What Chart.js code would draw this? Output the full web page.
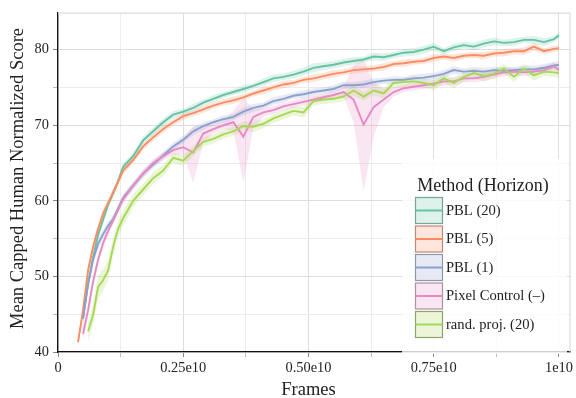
<!DOCTYPE html>
<html>
<head>
<meta charset="utf-8">
<script src="https://cdn.jsdelivr.net/npm/chart.js@4.4.1/dist/chart.umd.min.js"></script>
<style>
  html, body { margin: 0; padding: 0; background: #fff; }
  canvas { display: block; }
</style>
</head>
<body>
<canvas id="scoreChart" width="576" height="398"></canvas>
<script>
// ============================================
// DATA — frames in units of 1e10
// ============================================
const framesE10 = [
  0.04, 0.05, 0.06, 0.07, 0.08, 0.09, 0.10, 0.11, 0.12, 0.13,
  0.15, 0.17, 0.19, 0.21, 0.23, 0.25, 0.27, 0.29, 0.31, 0.33,
  0.35, 0.37, 0.39, 0.41, 0.43, 0.45, 0.47, 0.49, 0.51, 0.53,
  0.55, 0.57, 0.59, 0.61, 0.63, 0.65, 0.67, 0.69, 0.71, 0.73,
  0.75, 0.77, 0.79, 0.81, 0.83, 0.85, 0.87, 0.89, 0.91, 0.93,
  0.95, 0.97, 0.99, 1.00
];

const pbl20 = [
  null, 44.5, 49.0, 52.5, 55.5, 57.5, 59.5, 61.0, 62.6, 64.5,
  65.9, 68.0, 69.2, 70.4, 71.4, 71.8, 72.3, 73.0, 73.5, 74.0,
  74.4, 74.8, 75.2, 75.7, 76.2, 76.4, 76.7, 77.1, 77.6, 77.8,
  78.0, 78.3, 78.5, 78.7, 79.1, 79.0, 79.3, 79.6, 79.7, 80.0,
  80.4, 79.8, 80.3, 80.6, 80.4, 80.8, 81.1, 80.9, 81.0, 81.3,
  81.3, 81.0, 81.4, 81.9
];
const pbl5 = [
  41.3, 45.5, 50.8, 53.9, 56.3, 58.3, 59.7, 61.1, 62.5, 64.0,
  65.4, 67.2, 68.4, 69.5, 70.4, 71.2, 71.6, 72.1, 72.6, 73.0,
  73.3, 73.7, 74.2, 74.6, 75.0, 75.4, 75.6, 76.0, 76.2, 76.5,
  76.8, 77.0, 77.3, 77.4, 77.5, 77.7, 78.1, 78.2, 78.4, 78.5,
  78.9, 79.1, 78.9, 79.2, 79.3, 79.2, 79.5, 79.6, 79.8, 79.8,
  80.4, 79.8, 80.1, 80.2
];
const pbl1 = [
  null, 44.4, 49.0, 52.2, 54.3, 55.6, 56.7, 57.6, 59.0, 60.4,
  62.0, 63.6, 64.8, 66.0, 67.2, 68.1, 69.2, 69.9, 70.4, 70.8,
  71.1, 71.8, 72.3, 72.6, 73.2, 73.5, 73.9, 74.1, 74.4, 74.6,
  74.8, 75.3, 75.3, 75.4, 75.7, 75.9, 76.0, 76.0, 76.2, 76.3,
  76.5, 76.8, 77.3, 77.1, 77.2, 77.1, 77.3, 77.2, 77.3, 77.4,
  77.4, 77.6, 77.9, 78.0
];
const pixelControl = [
  null, 42.4, 45.5, 49.3, 52.2, 54.4, 56.0, 57.4, 58.8, 60.2,
  62.0, 63.6, 65.0, 65.9, 66.7, 67.1, 66.4, 68.9, 69.5, 70.0,
  70.4, 68.5, 71.1, 71.7, 72.0, 72.5, 72.8, 73.1, 73.4, 73.7,
  74.0, 74.4, 73.4, 70.1, 72.4, 73.4, 74.4, 74.9, 75.1, 75.3,
  75.5, 75.8, 75.8, 76.2, 76.2, 76.4, 76.7, 77.0, 77.1, 77.0,
  77.1, 77.3, 77.8, 77.3
];
const randProj = [
  null, null, 42.7, 44.9, 48.6, 49.5, 50.8, 53.9, 56.3, 57.7,
  60.0, 61.5, 63.0, 64.0, 65.7, 65.3, 66.6, 67.8, 68.2, 68.8,
  69.2, 69.9, 69.8, 70.2, 70.9, 71.4, 71.9, 71.7, 73.2, 73.4,
  73.5, 73.8, 74.6, 73.8, 74.6, 74.2, 75.6, 75.7, 75.8, 75.6,
  75.3, 76.2, 75.6, 76.4, 76.9, 76.5, 76.8, 77.5, 76.4, 77.5,
  76.6, 77.1, 77.0, 76.9
];

// confidence band half-widths (below / above the mean)
const pbl20Spread = [
  null, .8, .8, .7, .6, .6, .5, .5, .5, .5,
  .5, .5, .5, .5, .5, .4, .5, .4, .5, .4,
  .4, .5, .4, .5, .5, .4, .5, .5, .6, .5,
  .5, .5, .5, .4, .5, .5, .4, .5, .5, .5,
  .5, .4, .5, .4, .5, .5, .5, .4, .5, .4,
  .5, .5, .4, .4
];
const pbl5Spread = [
  .6, .8, .8, .7, .6, .6, .5, .5, .5, .5,
  .5, .4, .5, .5, .4, .5, .4, .5, .4, .4,
  .5, .4, .4, .5, .4, .5, .4, .4, .5, .4,
  .5, .4, .5, .4, .4, .5, .4, .5, .4, .4,
  .5, .4, .5, .4, .4, .5, .4, .5, .4, .5,
  .5, .4, .4, .4
];
const pbl1Spread = [
  null, .8, .8, .7, .7, .6, .6, .5, .5, .5,
  .5, .5, .5, .5, .5, .5, .5, .5, .4, .5,
  .4, .5, .5, .4, .5, .5, .4, .5, .5, .4,
  .5, .5, .4, .5, .5, .4, .5, .4, .5, .5,
  .4, .5, .5, .4, .5, .5, .4, .5, .4, .5,
  .5, .5, .5, .5
];
const pixelControlDown = [
  null, .8, .8, .7, .6, .6, .6, .5, .5, .5,
  .5, .5, .5, .5, .6, 1.0, 4.0, 1.2, .6, .5,
  1.2, 6.0, 1.5, .6, .5, .5, .5, .5, .5, .5,
  .5, .6, 3.0, 8.8, 4.0, 1.0, .6, .5, .5, .5,
  .5, .5, .5, .5, .5, .5, .5, .5, .5, .5,
  .5, .5, .5, .5
];
const pixelControlUp = [
  null, .8, .8, .7, .6, .6, .6, .5, .5, .5,
  .5, .5, .5, .5, .6, 1.0, 3.5, 1.0, .6, .5,
  1.5, 5.1, 1.0, .6, .5, .5, .5, .5, .5, .5,
  .5, .6, 4.5, 8.6, 3.3, 1.5, .6, .5, .5, .5,
  .5, .5, .5, .5, .5, .5, .5, .5, .5, .5,
  .5, .5, .5, .5
];
const randProjSpread = [
  null, null, 1.2, 1.4, 1.5, 1.4, 1.3, 1.2, 1.1, 1.0,
  .9, .8, .8, .7, .7, .7, .7, .6, .6, .6,
  .6, .6, .7, .6, .6, .6, .6, .7, .6, .6,
  .6, .6, .7, .6, .6, .7, .6, .6, .7, .6,
  .7, .6, .7, .6, .6, .7, .6, .6, .7, .6,
  .7, .6, .6, .6
];

const methodLabels = ['PBL (20)', 'PBL (5)', 'PBL (1)', 'Pixel Control (–)', 'rand. proj. (20)'];
const legendTitle = 'Method (Horizon)';

const xGridValues = [0, 0.125, 0.25, 0.375, 0.5, 0.625, 0.75, 0.875, 1.0];
const xTickLabels = ['0', '', '0.25e10', '', '0.50e10', '', '0.75e10', '', '1e10'];
const yGridValues = [40, 45, 50, 55, 60, 65, 70, 75, 80];
const yTickLabels = ['40', '', '50', '', '60', '', '70', '', '80'];

// ============================================
// STYLE
// ============================================
const SERIF = "'Liberation Serif', 'Times New Roman', serif";
const seriesStyle = [
  { color: '#66c2a5', band: 'rgba(102,194,165,0.22)', edge: '#75a595' },
  { color: '#fc8d62', band: 'rgba(252,141,98,0.22)',  edge: '#b98a77' },
  { color: '#8da0cb', band: 'rgba(141,160,203,0.22)', edge: '#8e96a8' },
  { color: '#e78ac3', band: 'rgba(231,138,195,0.22)', edge: '#ae90a2' },
  { color: '#a6d854', band: 'rgba(166,216,84,0.22)',  edge: '#8fa171' },
];

const means = [pbl20, pbl5, pbl1, pixelControl, randProj];
const downs = [pbl20Spread, pbl5Spread, pbl1Spread, pixelControlDown, randProjSpread];
const ups   = [pbl20Spread, pbl5Spread, pbl1Spread, pixelControlUp, randProjSpread];

const toPoints = vals => framesE10.map((f, i) => ({ x: f, y: vals[i] }));

const datasets = [];
means.forEach((vals, s) => {
  datasets.push({
    label: methodLabels[s],
    data: toPoints(vals),
    borderColor: seriesStyle[s].color,
    borderWidth: 1.9,
    pointRadius: 0,
    fill: false,
    order: 5 - s,
  });
});
means.forEach((vals, s) => {
  const hi = vals.map((v, i) => v == null ? null : v + ups[s][i]);
  const lo = vals.map((v, i) => v == null ? null : v - downs[s][i]);
  datasets.push({
    data: toPoints(hi), borderWidth: 0, pointRadius: 0,
    backgroundColor: seriesStyle[s].band, fill: '+1', order: 20,
  });
  datasets.push({
    data: toPoints(lo), borderWidth: 0, pointRadius: 0,
    backgroundColor: 'rgba(0,0,0,0)', fill: false, order: 20,
  });
});

// ============================================
// PLUGINS — frame, axis titles, legend box
// ============================================
const framePlugin = {
  id: 'frame',
  beforeDatasetsDraw(chart) {
    const { ctx, chartArea: a } = chart;
    ctx.save();
    ctx.strokeStyle = '#dcdcdc';
    ctx.lineWidth = 1.2;
    ctx.beginPath();
    ctx.moveTo(a.left, a.top + 0.5);
    ctx.lineTo(a.right - 0.5, a.top + 0.5);
    ctx.lineTo(a.right - 0.5, a.bottom);
    ctx.stroke();
    ctx.restore();
  },
  afterDraw(chart) {
    const ctx = chart.ctx;
    ctx.save();
    ctx.fillStyle = '#222';
    ctx.font = '18.5px ' + SERIF;
    ctx.textAlign = 'center';
    ctx.textBaseline = 'alphabetic';
    ctx.fillText('Frames', 308.5, 394.5);
    ctx.translate(23, 178.5);
    ctx.rotate(-Math.PI / 2);
    ctx.fillText('Mean Capped Human Normalized Score', 0, 0);
    ctx.restore();
  }
};

const legendPlugin = {
  id: 'patchLegend',
  afterDraw(chart) {
    const ctx = chart.ctx;
    ctx.save();
    ctx.fillStyle = 'rgba(255,255,255,0.8)';
    ctx.fillRect(402, 159, 165, 195);

    ctx.fillStyle = '#222';
    ctx.font = '18px ' + SERIF;
    ctx.textAlign = 'center';
    ctx.textBaseline = 'alphabetic';
    ctx.fillText(legendTitle, 483, 190.5);

    ctx.font = '14.6px ' + SERIF;
    ctx.textAlign = 'left';
    ctx.textBaseline = 'middle';
    methodLabels.forEach((label, i) => {
      const x = 415.5, y = 197.5 + i * 28.5, w = 27, h = 26;
      ctx.fillStyle = '#fff';
      ctx.fillRect(x, y, w, h);
      ctx.fillStyle = seriesStyle[i].band;
      ctx.fillRect(x, y, w, h);
      ctx.strokeStyle = seriesStyle[i].edge;
      ctx.lineWidth = 1.2;
      ctx.strokeRect(x, y, w, h);
      ctx.strokeStyle = seriesStyle[i].color;
      ctx.lineWidth = 2;
      ctx.beginPath();
      ctx.moveTo(x, y + h / 2);
      ctx.lineTo(x + w, y + h / 2);
      ctx.stroke();
      ctx.fillStyle = '#222';
      ctx.fillText(label, 446, y + h / 2 + 0.5);
    });
    ctx.restore();
  }
};

// ============================================
// CHART
// ============================================
const isMajor = (values, v) => values.indexOf(v) % 2 === 0;

new Chart(document.getElementById('scoreChart').getContext('2d'), {
  type: 'line',
  data: { datasets },
  plugins: [framePlugin, legendPlugin],
  options: {
    responsive: false,
    animation: false,
    devicePixelRatio: 1,
    layout: { padding: { top: 10, right: 2, left: 0, bottom: 0 } },
    plugins: { legend: { display: false }, tooltip: { enabled: false } },
    scales: {
      x: {
        type: 'linear',
        min: 0,
        max: 1.023,
        afterFit: s => { s.height = 46; },
        afterBuildTicks: s => { s.ticks = xGridValues.map(v => ({ value: v })); },
        ticks: {
          autoSkip: false, maxRotation: 0, padding: 3,
          color: '#222', font: { family: SERIF, size: 14.4 },
          callback: (v, i) => xTickLabels[i]
        },
        grid: {
          color: c => isMajor(xGridValues, c.tick.value) ? '#dedede' : '#ececec',
          tickColor: c => isMajor(xGridValues, c.tick.value) ? '#888' : '#bbb',
          tickLength: 5,
          lineWidth: 1
        },
        border: { display: true, color: '#111', width: 1.3 }
      },
      y: {
        min: 40,
        max: 84.9,
        afterFit: s => { s.width = 58; },
        afterBuildTicks: s => { s.ticks = yGridValues.map(v => ({ value: v })); },
        ticks: {
          autoSkip: false, padding: 4,
          color: '#222', font: { family: SERIF, size: 14.4 },
          callback: (v, i) => yTickLabels[i]
        },
        grid: {
          color: c => isMajor(yGridValues, c.tick.value) ? '#dedede' : '#ececec',
          tickColor: c => isMajor(yGridValues, c.tick.value) ? '#888' : '#bbb',
          tickLength: 5,
          lineWidth: 1
        },
        border: { display: true, color: '#111', width: 1.3 }
      }
    }
  }
});
</script>
</body>
</html>
